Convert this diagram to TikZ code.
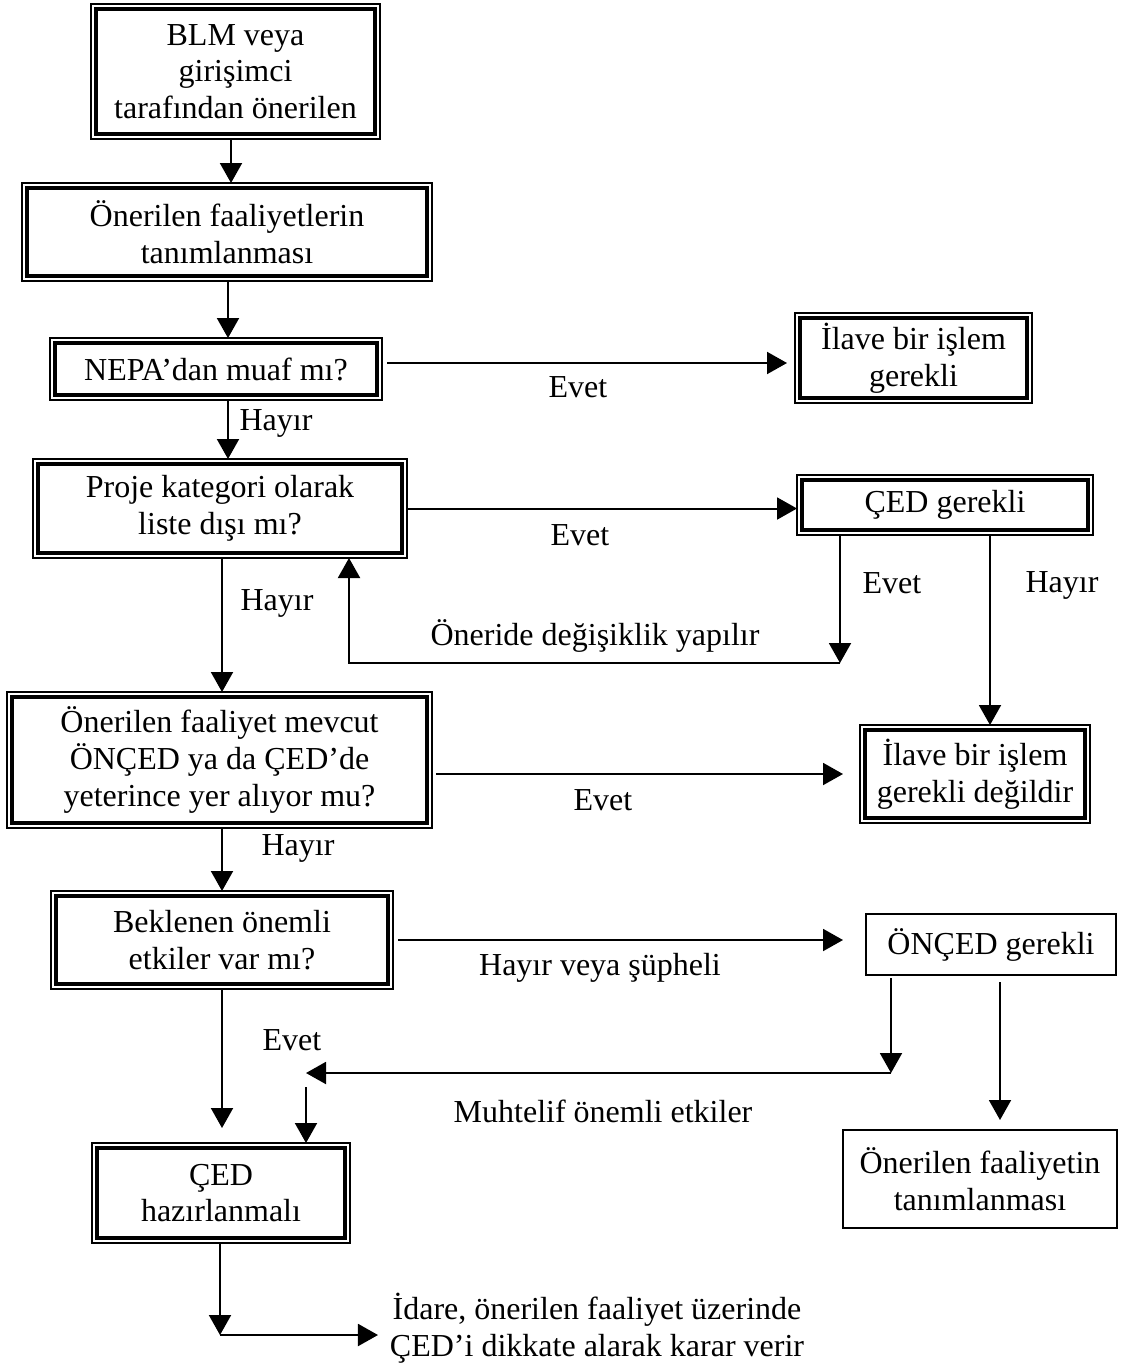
\documentclass[tikz,border=0pt]{standalone}
\usepackage{fontspec}
\setmainfont{Liberation Serif}
\usetikzlibrary{arrows.meta, positioning}

\begin{document}
\begin{tikzpicture}[
        x=0.5pt, y=-0.5pt,
        every node/.style={font=\fontsize{16}{18.4}\selectfont, inner sep=0pt,
                           outer sep=0pt, align=center},
        boy/.style 2 args={minimum width=#1*0.5pt, minimum height=#2*0.5pt},
        kutu/.style={draw, line width=0.6pt,
                     path picture={\draw[line width=2pt]
                       ([shift={(2.3pt,2.3pt)}]path picture bounding box.south west) rectangle
                       ([shift={(-2.3pt,-2.3pt)}]path picture bounding box.north east);}},
        duz/.style={draw, line width=0.9pt},
        arr/.style={-{Triangle[width=11pt, length=10pt]}, line width=1pt},
        hat/.style={line width=1pt}
      ]
      \useasboundingbox (0,0) rectangle (1128,1365);

      % -- sol sütun --
      \node[kutu, boy={289}{135}] (blm)    at (235.5,71.5) {BLM veya\\girişimci\\tarafından önerilen};
      \node[kutu, boy={410}{98}]  (tanim)  at (227,232)    {Önerilen faaliyetlerin\\tanımlanması};
      \node[kutu, boy={332}{62}]  (nepa)   at (216,369)    {NEPA’dan muaf mı?};
      \node[kutu, boy={374}{99}]  (proje)  at (220,508.5)  {Proje kategori olarak\\liste dışı mı?};
      \node[kutu, boy={425}{136}] (mevcut) at (219.5,760)  {Önerilen faaliyet mevcut\\ÖNÇED ya da ÇED’de\\yeterince yer alıyor mu?};
      \node[kutu, boy={342}{98}]  (bekl)   at (222,940)    {Beklenen önemli\\etkiler var mı?};
      \node[kutu, boy={258}{100}] (hazir)  at (221,1193)   {ÇED\\hazırlanmalı};
      \node (karar) at (597,1328) {İdare, önerilen faaliyet üzerinde\\ÇED’i dikkate alarak karar verir};

      % -- sağ sütun --
      \node[kutu, boy={237}{90}]  (ilave)    at (913.5,358) {İlave bir işlem\\gerekli};
      \node[kutu, boy={296}{60}]  (ced)      at (945,505)   {ÇED gerekli};
      \node[kutu, boy={230}{98}]  (gereksiz) at (975,774)   {İlave bir işlem\\gerekli değildir};
      \node[duz, boy={250}{61}]   (onced)    at (991,944.5) {ÖNÇED gerekli};
      \node[duz, boy={274}{98}]   (tanim2)   at (980,1179)  {Önerilen faaliyetin\\tanımlanması};

      % -- yardımcı noktalar --
      \coordinate (s1)     at (231,0);
      \coordinate (s2)     at (228,0);
      \coordinate (s3)     at (222,0);
      \coordinate (don)    at (840,663);
      \coordinate (geri)   at (349,663);
      \coordinate (birles) at (891,1073);
      \coordinate (kisa)   at (306,1073);
      \coordinate (kose)   at (220,1335);

      % -- ana akış --
      \draw[arr] (blm.south -| s1) -- (tanim.north -| s1);
      \draw[arr] (tanim.south -| s2) -- (nepa.north -| s2);
      \draw[arr] (nepa.south -| s2) -- (proje.north -| s2);
      \draw[arr] (proje.south -| s3) -- (mevcut.north -| s3);
      \draw[arr] (mevcut.south -| s3) -- (bekl.north -| s3);
      \draw[arr, shorten >=7.5pt] (bekl.south -| s3) -- (hazir.north -| s3);
      \draw[arr] (hazir.south -| kose) -- (kose);
      \draw[arr, shorten >=6pt] (kose) -- (kose -| karar.west);

      % -- sağa dallar --
      \draw[arr, shorten >=4pt] ([shift={(2.5pt,3pt)}]nepa.east) -- ([yshift=3pt]nepa.east -| ilave.west);
      \draw[arr] (proje.east) -- (proje.east -| ced.west);
      \draw[arr, shorten >=8.5pt] ([xshift=2pt]mevcut.east |- gereksiz.west) -- (gereksiz.west);
      \draw[arr, shorten >=11.5pt] ([xshift=2.5pt]bekl.east) -- (bekl.east -| onced.west);

      % -- geri dönüşler --
      \draw[arr] (ced.south -| don) -- (don);
      \draw[arr] (don) -- (geri) -- (geri |- proje.south);
      \draw[arr] ([xshift=7.5pt]gereksiz.north |- ced.south) -- ([xshift=7.5pt]gereksiz.north);
      \draw[arr] ([yshift=-1.5pt]onced.south -| birles) -- (birles);
      \draw[arr] (birles) -- (kisa);
      \draw[arr] ([yshift=-7pt]kisa) -- (kisa |- hazir.north);
      \draw[arr, shorten >=5pt] ([yshift=-3.5pt]onced.south -| 1000,0) -- (tanim2.north -| 1000,0);

      % -- etiketler --
      \node (e1) at (578,387)  {Evet};
      \node (h1) at (276,423)  {Hayır};
      \node (e2) at (580,535)  {Evet};
      \node (e3) at (892,583)  {Evet};
      \node (h2) at (1062,585) {Hayır};
      \node (h3) at (277,603)  {Hayır};
      \node (od) at (595,636)  {Öneride değişiklik yapılır};
      \node (e4) at (603,800)  {Evet};
      \node (h4) at (298,848)  {Hayır};
      \node (hs) at (600,968)  {Hayır veya şüpheli};
      \node (e5) at (292,1040) {Evet};
      \node (mu) at (603,1111) {Muhtelif önemli etkiler};
    \end{tikzpicture}
\end{document}
